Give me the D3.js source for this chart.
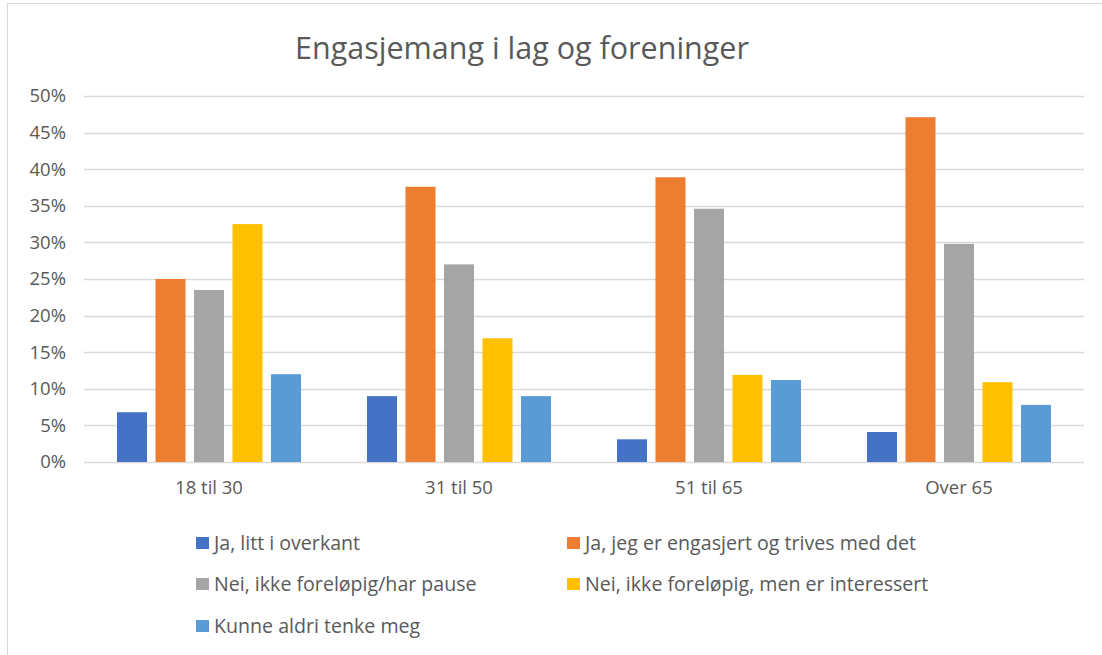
<!DOCTYPE html>
<html>
<head>
<meta charset="utf-8">
<script src="https://cdn.jsdelivr.net/npm/d3@7"></script>
<style>
  body { margin: 0; background: #fff; }
  svg { display: block; font-family: "Open Sans", sans-serif; }
</style>
</head>
<body>
<div id="chart"></div>
<script>
// data
const categories = ["18 til 30", "31 til 50", "51 til 65", "Over 65"];
const seriesNames = [
  "Ja, litt i overkant",
  "Ja, jeg er engasjert og trives med det",
  "Nei, ikke foreløpig/har pause",
  "Nei, ikke foreløpig, men er interessert",
  "Kunne aldri tenke meg"
];
const seriesColors = ["#4472C4", "#ED7D31", "#A5A5A5", "#FFC000", "#5B9BD5"];
// one array per series, values in % per category
const litt = [6.8, 9.0, 3.1, 4.1];
const engasjert = [25.0, 37.6, 38.9, 47.1];
const pause = [23.5, 27.0, 34.6, 29.8];
const interessert = [32.5, 16.9, 11.9, 10.9];
const aldri = [12.0, 9.0, 11.2, 7.8];
const yTicks = [0, 5, 10, 15, 20, 25, 30, 35, 40, 45, 50];

const seriesValues = [litt, engasjert, pause, interessert, aldri];

const W = 1102, H = 655;
const svg = d3.select("#chart").append("svg")
  .attr("width", W).attr("height", H);

// chart border (only top and left are visible in the crop)
svg.append("rect")
  .attr("x", 7.5).attr("y", 3.5)
  .attr("width", W + 20).attr("height", H + 20)
  .attr("fill", "none").attr("stroke", "#d9d9d9");

svg.append("text")
  .attr("x", 522).attr("y", 59)
  .attr("text-anchor", "middle")
  .attr("font-size", "30.5px")
  .attr("fill", "#595959")
  .text("Engasjemang i lag og foreninger");

const x0 = d3.scaleBand().domain(categories).range([84, 1084]);
const x1 = d3.scaleBand().domain(seriesNames)
  .range([0, x0.bandwidth()])
  .paddingInner(0.22).paddingOuter(0.857);
const y = d3.scaleLinear().domain([0, 50]).range([462, 96]);

// gridlines
svg.append("g")
  .selectAll("line")
  .data(yTicks)
  .enter()
  .append("line")
  .attr("x1", 84).attr("x2", 1084)
  .attr("y1", d => Math.round(y(d)) + 0.5)
  .attr("y2", d => Math.round(y(d)) + 0.5)
  .attr("stroke", "#d9d9d9")
  .attr("stroke-width", 1.5);

// y axis labels
const yAxis = svg.append("g")
  .attr("transform", "translate(66,0)")
  .call(d3.axisLeft(y).tickValues(yTicks).tickSize(0).tickPadding(0)
    .tickFormat(d => d + "%"));
yAxis.select(".domain").remove();
yAxis.selectAll("text")
  .attr("font-family", "Open Sans")
  .attr("font-size", "18.5px")
  .attr("fill", "#595959");

// bars
const groups = svg.append("g")
  .selectAll("g")
  .data(categories)
  .enter()
  .append("g")
  .attr("transform", d => "translate(" + x0(d) + ",0)");

groups.selectAll("rect")
  .data((c, ci) => seriesNames.map((s, si) => ({ s: s, i: si, v: seriesValues[si][ci] })))
  .enter()
  .append("rect")
  .attr("x", d => x1(d.s))
  .attr("width", x1.bandwidth())
  .attr("y", d => y(d.v))
  .attr("height", d => y(0) - y(d.v))
  .attr("fill", d => seriesColors[d.i]);

// category axis labels
const xAxis = svg.append("g")
  .attr("transform", "translate(0,481)")
  .call(d3.axisBottom(x0).tickSize(0).tickPadding(0));
xAxis.select(".domain").remove();
xAxis.selectAll("text")
  .attr("font-family", "Open Sans")
  .attr("font-size", "18.5px")
  .attr("fill", "#595959");

// legend, two columns
const legendCols = [196, 567];
const legendRows = [543, 584, 626];
const legend = svg.append("g")
  .selectAll("g")
  .data(seriesNames)
  .enter()
  .append("g")
  .attr("transform", (d, i) => "translate(" + legendCols[i % 2] + "," + legendRows[Math.floor(i / 2)] + ")");
legend.append("rect")
  .attr("x", 0).attr("y", -6)
  .attr("width", 13).attr("height", 12)
  .attr("fill", (d, i) => seriesColors[i]);
legend.append("text")
  .attr("x", 18).attr("y", 7)
  .attr("font-size", "19.6px")
  .attr("fill", "#595959")
  .text(d => d);
</script>
</body>
</html>
